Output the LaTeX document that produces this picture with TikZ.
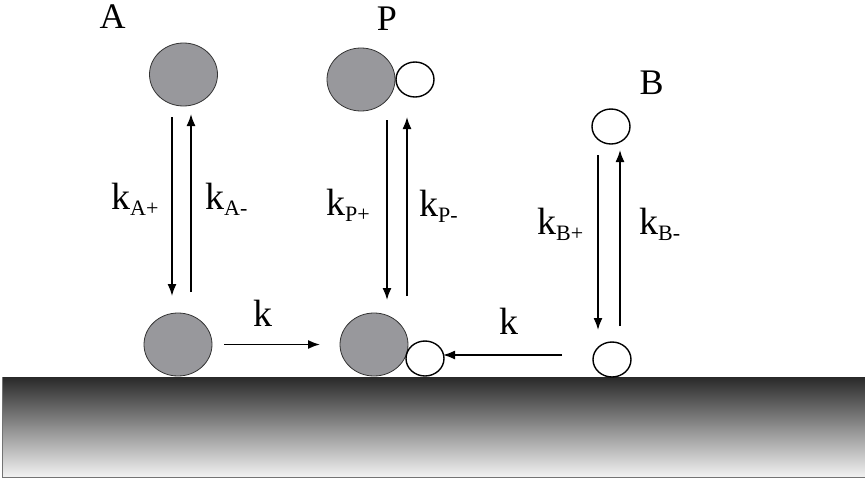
\documentclass[tikz,border=0pt]{standalone}
\usepackage{fontspec}
\setmainfont{Liberation Serif}
\usetikzlibrary{arrows.meta,shapes.geometric}
\definecolor{blobgray}{RGB}{152,152,156}
\newcommand{\ksub}[1]{k\raisebox{-6pt}{\fontsize{22}{22}\selectfont #1}}
\tikzset{
  big/.style={ellipse, draw=black!80, line width=0.8pt, fill=blobgray,
    minimum width=68pt, minimum height=63pt, inner sep=0pt},
  small/.style={ellipse, draw=black, line width=1.4pt, fill=white,
    minimum width=38pt, minimum height=35pt, inner sep=0pt},
  lbl/.style={font=\fontsize{36}{36}\selectfont, inner sep=0pt, anchor=base},
  rate/.style={font=\fontsize{38}{38}\selectfont, inner sep=0pt},
  flow/.style={line width=1.6pt, -{Latex[length=12pt,width=9pt]}},
}
\begin{document}
\begin{tikzpicture}[x=1pt,y=-1pt]
\useasboundingbox (0,0) rectangle (865,479);
% substrate
\shade[top color=black!84, middle color=black!45, bottom color=white!95!black]
  (2,377) rectangle (865,477);
\draw[black!55, line width=0.8pt] (2,377) -- (2,477) -- (865,477);

% species in solution
\node[big] (A1) at (183.5,74.5) {};
\node[big] (P1) at (361,79.5) {};
\node[small] (P1s) at (415,79.5) {};
\node[small] (B1) at (611,126.5) {};

% species on the surface
\node[big] (A2) at (178,344.5) {};
\node[big] (P2) at (374,344.5) {};
\node[small] (P2s) at (425,358.5) {};
\node[small] (B2) at (612,359.5) {};

% labels
\node[lbl] (la) at (112.5,28) {A};
\node[lbl] (lp) at (387,30) {P};
\node[lbl] (lb) at (651.5,94) {B};

% adsorption / desorption arrows
\coordinate (a1) at (172,117); \coordinate (a2) at (172,296);
\coordinate (a3) at (191,292); \coordinate (a4) at (191,114);
\draw[flow] (a1) -- (a2);
\draw[flow] (a3) -- (a4);
\coordinate (p1) at (387,120); \coordinate (p2) at (387,300);
\coordinate (p3) at (407,296); \coordinate (p4) at (407,117);
\draw[flow] (p1) -- (p2);
\draw[flow] (p3) -- (p4);
\coordinate (b1) at (598,155); \coordinate (b2) at (598,330);
\coordinate (b3) at (620,326); \coordinate (b4) at (620,150);
\draw[flow] (b1) -- (b2);
\draw[flow] (b3) -- (b4);

% surface reaction arrows
\coordinate (h1) at (224,344.5); \coordinate (h2) at (320,344.5);
\draw[flow] (h1) -- (h2);
\coordinate (h3) at (562,355); \coordinate (h4) at (443,355);
\draw[flow] (h3) -- (h4);

% rate constants
\node[rate, anchor=base west] (kap) at (111,209) {\ksub{A+}};
\node[rate, anchor=base west] (kam) at (205,209) {\ksub{A-}};
\node[rate, anchor=base west] (kpp) at (326,215) {\ksub{P+}};
\node[rate, anchor=base west] (kpm) at (419,216) {\ksub{P-}};
\node[rate, anchor=base west] (kbp) at (537,234) {\ksub{B+}};
\node[rate, anchor=base west] (kbm) at (639,234) {\ksub{B-}};
\node[rate, anchor=base] (k1) at (263,326) {k};
\node[rate, anchor=base] (k2) at (508.5,334) {k};
\end{tikzpicture}
\end{document}
